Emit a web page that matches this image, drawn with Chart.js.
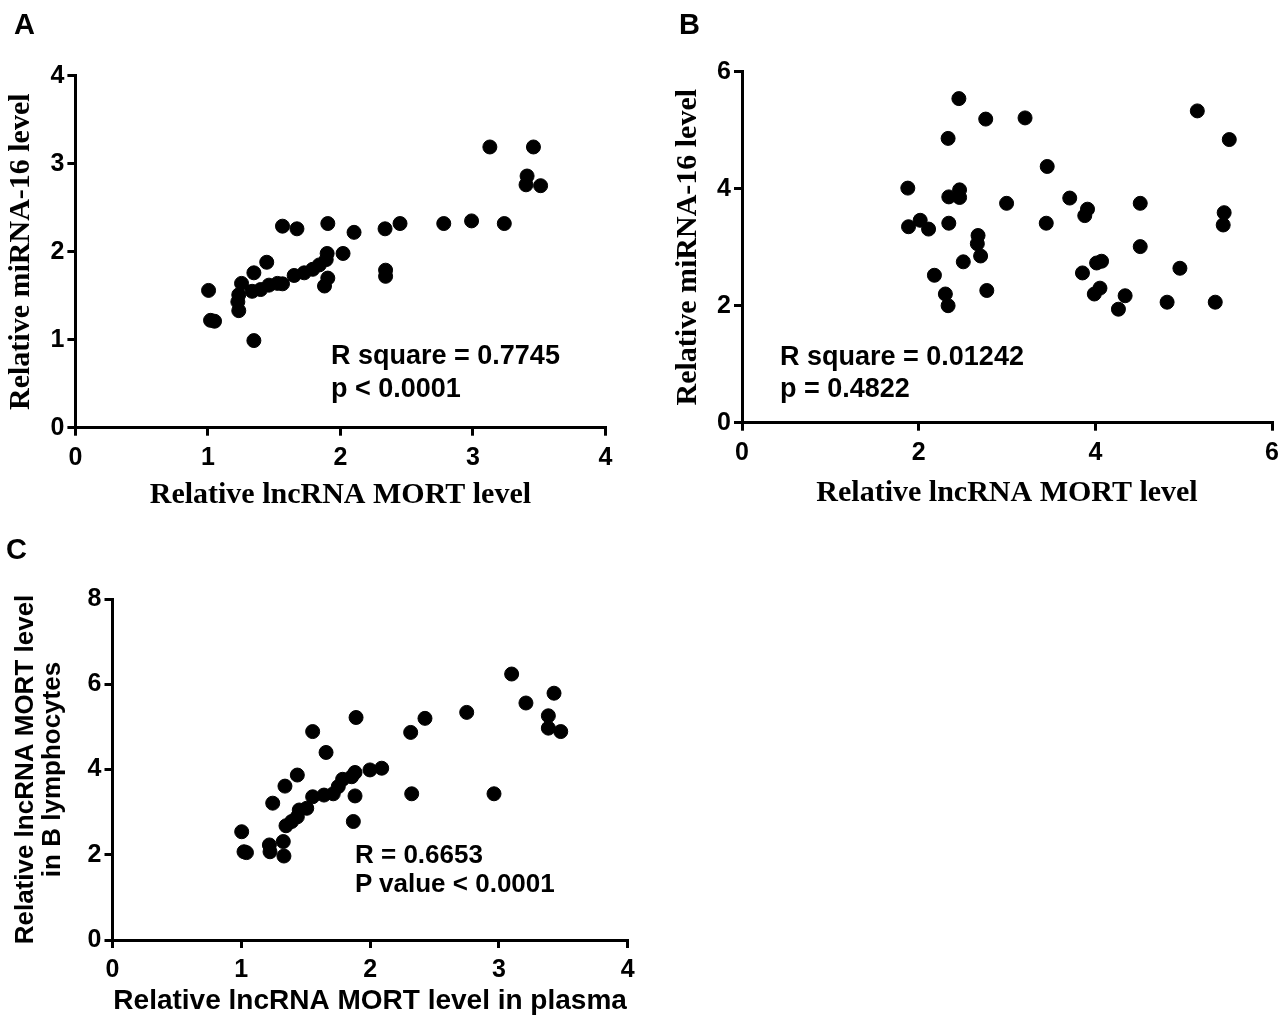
<!DOCTYPE html>
<html>
<head>
<meta charset="utf-8">
<script src="https://cdn.jsdelivr.net/npm/chart.js@4.4.1/dist/chart.umd.min.js"></script>
<style>
  html, body { margin: 0; padding: 0; background: #fff; }
  body { width: 1286px; height: 1019px; position: relative; overflow: hidden; }
  .box { position: absolute; }
  .lab { position: absolute; font-family: "Liberation Sans", Arial, sans-serif; font-weight: bold; color: #000; white-space: nowrap; }
</style>
</head>
<body>
<div class="box" style="left:0px;top:0px;width:640px;height:530px;"><canvas id="cA" width="640" height="530"></canvas></div>
<div class="box" style="left:655px;top:0px;width:631px;height:530px;"><canvas id="cB" width="631" height="530"></canvas></div>
<div class="box" style="left:0px;top:530px;width:660px;height:489px;"><canvas id="cC" width="660" height="489"></canvas></div>

<div class="lab" style="left:14px;top:10px;font-size:29px;line-height:29px;">A</div>
<div class="lab" style="left:679px;top:10px;font-size:29px;line-height:29px;">B</div>
<div class="lab" style="left:6px;top:535px;font-size:29px;line-height:29px;">C</div>

<div class="lab" style="left:331px;top:339px;font-size:27px;line-height:33px;">R square = 0.7745<br>p &lt; 0.0001</div>
<div class="lab" style="left:780px;top:340px;font-size:27px;line-height:32px;">R square = 0.01242<br>p = 0.4822</div>
<div class="lab" style="left:355px;top:840px;font-size:26px;line-height:29px;">R = 0.6653<br>P value &lt; 0.0001</div>

<script>
// ---------- DATA ----------
// Panel A: lncRNA MORT (x) vs miRNA-16 (y)
const aMort = [1.005,1.02,1.05,1.347,1.347,1.444,1.254,1.233,1.226,1.233,1.334,1.398,1.461,1.525,1.563,1.563,1.672,1.651,1.727,1.791,1.841,1.893,1.90,1.905,1.88,1.905,2.02,2.103,2.337,2.45,2.341,2.341,2.78,2.99,3.237,3.128,3.457,3.409,3.401,3.511];
const aMir  = [1.56,1.22,1.21,0.99,1.76,1.88,1.64,1.51,1.43,1.33,1.55,1.57,1.62,1.64,1.635,2.29,2.26,1.73,1.76,1.80,1.85,1.91,1.98,2.32,1.61,1.70,1.98,2.22,2.26,2.32,1.79,1.72,2.32,2.35,2.32,3.19,3.19,2.86,2.76,2.75];

// Panel B: lncRNA MORT (x) vs miRNA-16 (y)
const bMort = [2.455,2.759,3.204,2.333,3.455,5.154,5.516,1.877,2.341,2.463,2.463,2.995,3.71,3.911,3.88,4.508,5.458,5.447,1.885,2.017,2.112,2.341,3.444,2.672,2.664,2.701,2.505,2.178,2.302,2.333,2.771,4.508,4.014,4.07,3.854,3.988,4.052,4.337,4.261,4.812,4.957,5.357];
const bMir  = [5.54,5.19,5.21,4.86,4.38,5.33,4.84,4.01,3.86,3.98,3.85,3.75,3.84,3.65,3.54,3.75,3.59,3.38,3.35,3.46,3.31,3.41,3.41,3.20,3.06,2.85,2.75,2.52,2.20,2.00,2.26,3.01,2.73,2.76,2.56,2.20,2.30,2.17,1.94,2.06,2.64,2.06];

// Panel C: lncRNA MORT in plasma (x) vs in B lymphocytes (y)
const cPlasma = [1.003,1.021,1.04,1.218,1.223,1.326,1.331,1.244,1.339,1.435,1.347,1.391,1.435,1.45,1.508,1.554,1.554,1.658,1.642,1.714,1.753,1.787,1.857,1.883,1.883,1.87,1.891,1.999,2.09,2.315,2.426,2.323,2.75,2.962,3.099,3.21,3.428,3.384,3.384,3.48];
const cBcell  = [2.54,2.07,2.05,2.23,2.07,2.31,1.97,3.21,3.61,3.87,2.68,2.78,2.89,3.05,3.09,3.36,4.89,4.40,3.40,3.43,3.60,3.77,3.83,3.93,3.38,2.78,5.22,3.99,4.03,4.87,5.20,3.43,5.34,3.43,6.24,5.56,5.79,5.26,4.97,4.89];

// Tick values
const aXTicks = [0,1,2,3,4];
const aYTicks = [0,1,2,3,4];
const bXTicks = [0,2,4,6];
const bYTicks = [0,2,4,6];
const cXTicks = [0,1,2,3,4];
const cYTicks = [0,2,4,6,8];

// Titles
const abXTitle = "Relative lncRNA MORT level";
const abYTitle = "Relative miRNA-16 level";
const cXTitle = "Relative lncRNA MORT level in plasma";
const cYTitle = ["Relative lncRNA MORT level", "in B lymphocytes"];

// ---------- CHARTS ----------
Chart.defaults.font.family = "'Liberation Sans', Arial, sans-serif";
Chart.defaults.font.weight = 'bold';
Chart.defaults.color = '#000';

function axis(ticksArr, fit, title, titleFont, titlePad, tickPad) {
  return {
    type: 'linear',
    min: ticksArr[0],
    max: ticksArr[ticksArr.length - 1],
    afterBuildTicks: (s) => { s.ticks = ticksArr.map(v => ({ value: v })); },
    afterFit: fit,
    ticks: {
      color: '#000',
      padding: tickPad,
      font: { family: "'Liberation Sans', Arial, sans-serif", size: 25, weight: 'bold', lineHeight: 1.2 }
    },
    grid: {
      display: true, drawOnChartArea: false, drawTicks: true,
      tickLength: 8, tickWidth: 3, tickColor: '#000', color: '#000', lineWidth: 3
    },
    border: { display: true, color: '#000', width: 3 },
    title: { display: true, text: title, color: '#000', font: titleFont, padding: titlePad }
  };
}

function makeChart(id, xs, ys, o) {
  const pts = xs.map((x, i) => ({ x: x, y: ys[i] }));
  return new Chart(document.getElementById(id), {
    type: 'scatter',
    data: { datasets: [{
      data: pts,
      pointRadius: 7,
      pointHoverRadius: 7,
      pointBackgroundColor: '#000',
      pointBorderColor: '#000',
      pointBorderWidth: 1,
      clip: false
    }] },
    options: {
      responsive: false,
      devicePixelRatio: 1,
      animation: false,
      events: [],
      layout: { padding: { left: 0, top: o.padTop, right: o.padRight, bottom: 0 } },
      plugins: { legend: { display: false }, tooltip: { enabled: false } },
      scales: {
        x: axis(o.xTicks, (s) => { s.height = o.xHeight; }, o.xTitle, o.xTitleFont, { top: 0, bottom: o.xTitlePad }, 7),
        y: axis(o.yTicks, (s) => { s.width = o.yWidth; }, o.yTitle, o.yTitleFont, { top: o.yTitlePad, bottom: 0 }, 3)
      }
    }
  });
}

const serifBold = { family: "'Liberation Serif', 'Times New Roman', serif", size: 30, weight: 'bold', lineHeight: 1.2 };

makeChart('cA', aMort, aMir, {
  xTicks: aXTicks, yTicks: aYTicks,
  padTop: 75.7, padRight: 34.6, yWidth: 75.4, xHeight: 102.3,
  xTitle: abXTitle, yTitle: abYTitle,
  xTitleFont: serifBold, yTitleFont: serifBold,
  xTitlePad: 17, yTitlePad: 3
});

makeChart('cB', bMort, bMir, {
  xTicks: bXTicks, yTicks: bYTicks,
  padTop: 71.7, padRight: 13.6, yWidth: 87, xHeight: 107.3,
  xTitle: abXTitle, yTitle: abYTitle,
  xTitleFont: serifBold, yTitleFont: serifBold,
  xTitlePad: 19, yTitlePad: 15
});

makeChart('cC', cPlasma, cBcell, {
  xTicks: cXTicks, yTicks: cYTicks,
  padTop: 69, padRight: 32.3, yWidth: 112.5, xHeight: 79,
  xTitle: cXTitle, yTitle: cYTitle,
  xTitleFont: { family: "'Liberation Sans', Arial, sans-serif", size: 28, weight: 'bold', lineHeight: 1.2 },
  yTitleFont: { family: "'Liberation Sans', Arial, sans-serif", size: 26, weight: 'bold', lineHeight: 1.05 },
  xTitlePad: 1, yTitlePad: 12
});
</script>
</body>
</html>
